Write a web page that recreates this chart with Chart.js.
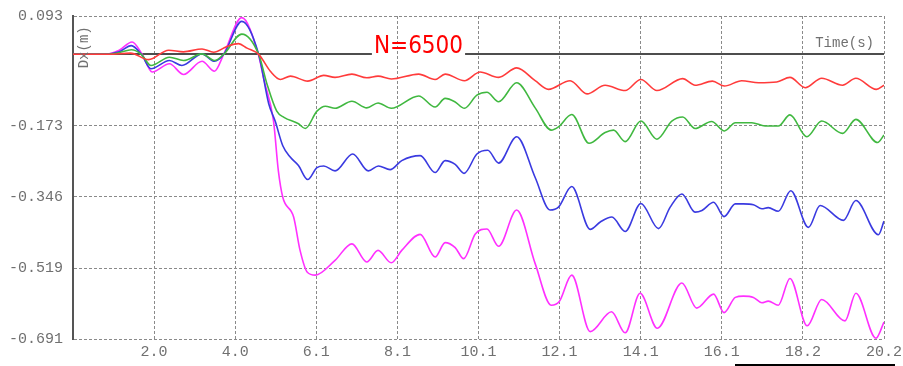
<!DOCTYPE html>
<html>
<head>
<meta charset="UTF-8">
<title>Dx time history</title>
<script src="https://cdn.jsdelivr.net/npm/chart.js"></script>
<style>
    body { margin: 0; background: #fff; }
    #wrap { width: 903px; height: 366px; }
</style>
</head>
<body>
<div id="wrap"><canvas id="dxChart" width="903" height="366"></canvas></div>
<script>
// displacement Dx (m) against time (s), four response curves
const redT = [0, 0.9, 1.43, 1.88, 2.38, 2.75, 3.21, 3.50, 3.83, 4.12, 4.33, 4.62, 4.91, 5.16, 5.41, 5.84, 6.24, 6.52, 6.94, 7.31, 7.59, 7.92, 8.60, 9.01, 9.26, 9.74, 10.13, 10.59, 11.04, 11.50, 11.83, 12.37, 12.79, 13.24, 13.74, 14.13, 14.53, 15.17, 15.48, 15.91, 16.21, 16.64, 17.06, 17.51, 17.84, 18.22, 18.63, 19.15, 19.48, 19.99, 20.18];
const redV = [0, 0, 0.003, -0.013, 0.010, 0.006, 0.013, 0.005, 0.019, 0.026, 0.015, 0, -0.041, -0.061, -0.053, -0.065, -0.051, -0.056, -0.048, -0.057, -0.053, -0.060, -0.048, -0.061, -0.048, -0.064, -0.043, -0.056, -0.033, -0.064, -0.085, -0.064, -0.096, -0.075, -0.088, -0.061, -0.088, -0.059, -0.075, -0.065, -0.077, -0.064, -0.069, -0.067, -0.056, -0.081, -0.058, -0.075, -0.058, -0.085, -0.075];

const greenT = [0, 0.8, 1.15, 1.45, 1.70, 1.94, 2.40, 2.75, 3.21, 3.52, 3.75, 4.20, 4.62, 4.83, 5.07, 5.25, 5.60, 5.78, 6.07, 6.28, 6.52, 6.94, 7.31, 7.59, 7.92, 8.60, 9.01, 9.26, 9.50, 9.74, 10.05, 10.30, 10.59, 11.04, 11.50, 11.90, 12.08, 12.41, 12.84, 13.24, 13.45, 13.74, 14.13, 14.53, 14.90, 15.17, 15.48, 15.89, 16.21, 16.48, 16.89, 17.22, 17.55, 17.84, 18.26, 18.63, 19.15, 19.48, 20.02, 20.18];
const greenV = [0, 0, 0.004, 0.011, 0, -0.027, -0.007, -0.015, 0.001, -0.015, 0, 0.049, 0, -0.073, -0.138, -0.153, -0.168, -0.180, -0.138, -0.126, -0.131, -0.114, -0.130, -0.118, -0.131, -0.101, -0.128, -0.107, -0.115, -0.131, -0.099, -0.092, -0.115, -0.069, -0.130, -0.184, -0.176, -0.146, -0.216, -0.190, -0.184, -0.212, -0.162, -0.206, -0.162, -0.152, -0.180, -0.163, -0.186, -0.166, -0.166, -0.174, -0.174, -0.147, -0.200, -0.162, -0.192, -0.158, -0.214, -0.196];

const blueT = [0, 0.8, 1.15, 1.45, 1.70, 1.94, 2.40, 2.71, 3.21, 3.52, 3.75, 4.20, 4.62, 4.87, 5.03, 5.22, 5.41, 5.61, 5.84, 6.07, 6.24, 6.52, 6.96, 7.35, 7.60, 7.89, 8.18, 8.64, 9.01, 9.26, 9.51, 9.73, 10.05, 10.32, 10.59, 11.04, 11.50, 11.87, 12.08, 12.41, 12.87, 13.12, 13.41, 13.74, 14.13, 14.57, 14.86, 15.15, 15.48, 15.65, 15.94, 16.20, 16.48, 16.68, 16.93, 17.14, 17.30, 17.55, 17.86, 18.30, 18.59, 19.17, 19.48, 20.04, 20.18];
const blueV = [0, 0, 0.006, 0.021, 0, -0.035, -0.015, -0.027, 0.001, -0.017, 0, 0.080, 0, -0.120, -0.162, -0.222, -0.250, -0.270, -0.304, -0.275, -0.271, -0.283, -0.242, -0.283, -0.271, -0.280, -0.258, -0.246, -0.287, -0.258, -0.267, -0.289, -0.242, -0.233, -0.264, -0.200, -0.299, -0.378, -0.371, -0.321, -0.425, -0.407, -0.395, -0.430, -0.362, -0.423, -0.371, -0.339, -0.383, -0.379, -0.359, -0.394, -0.363, -0.363, -0.365, -0.375, -0.372, -0.381, -0.331, -0.420, -0.367, -0.403, -0.355, -0.438, -0.405];

const pinkT = [0, 0.8, 1.15, 1.47, 1.72, 1.97, 2.40, 2.75, 3.21, 3.52, 3.75, 4.20, 4.61, 4.76, 4.99, 5.11, 5.22, 5.49, 5.65, 5.83, 6.03, 6.52, 6.94, 7.31, 7.59, 7.92, 8.18, 8.64, 9.01, 9.26, 9.51, 9.72, 10.01, 10.30, 10.59, 11.04, 11.50, 11.90, 12.10, 12.41, 12.87, 13.40, 13.74, 14.11, 14.54, 15.15, 15.52, 15.94, 16.20, 16.48, 16.68, 16.93, 17.14, 17.30, 17.55, 17.84, 18.27, 18.63, 19.21, 19.48, 19.98, 20.18];
const pinkV = [0, 0, 0.010, 0.030, 0, -0.043, -0.023, -0.049, -0.017, -0.041, 0, 0.089, 0, -0.065, -0.162, -0.283, -0.347, -0.395, -0.476, -0.529, -0.536, -0.500, -0.460, -0.504, -0.476, -0.506, -0.476, -0.437, -0.492, -0.457, -0.469, -0.496, -0.436, -0.424, -0.466, -0.378, -0.508, -0.609, -0.600, -0.536, -0.673, -0.625, -0.676, -0.580, -0.665, -0.555, -0.616, -0.582, -0.627, -0.590, -0.587, -0.590, -0.603, -0.599, -0.609, -0.544, -0.659, -0.595, -0.647, -0.580, -0.689, -0.650];

// axis ticks
const xTickValues = [2.018, 4.036, 6.054, 8.072, 10.09, 12.108, 14.126, 16.144, 18.162, 20.18];
const xTickLabels = ['2.0', '4.0', '6.1', '8.1', '10.1', '12.1', '14.1', '16.1', '18.2', '20.2'];
const yTickValues = [0.093, -0.173, -0.346, -0.519, -0.691];
const yTickLabels = ['0.093', '-0.173', '-0.346', '-0.519', '-0.691'];

const caseLabel = 'N=6500';

function pairs(t, v) {
    return t.map((x, i) => ({ x: x, y: v[i] }));
}

function series(label, t, v, color) {
    return {
        label: label,
        data: pairs(t, v),
        borderColor: color,
        borderWidth: 1.6,
        pointRadius: 0,
        fill: false,
        cubicInterpolationMode: 'monotone'
    };
}

const tickFont = { family: "'Liberation Mono', 'DejaVu Sans Mono', monospace", size: 15 };

// zero line broken by the case label, plus axis captions
const decorations = {
    id: 'decorations',
    beforeDatasetsDraw(chart) {
        const { ctx, chartArea: a, scales: { y } } = chart;
        const y0 = Math.round(y.getPixelForValue(0));
        ctx.save();
        ctx.font = "24px 'Liberation Sans Narrow', 'DejaVu Sans Condensed', sans-serif";
        const cx = a.left + (a.right - a.left) * 0.426;
        const w = ctx.measureText(caseLabel).width;
        ctx.strokeStyle = '#4d4d4d';
        ctx.lineWidth = 2;
        ctx.beginPath();
        ctx.moveTo(a.left, y0);
        ctx.lineTo(cx - w / 2 - 2, y0);
        ctx.moveTo(cx + w / 2 + 2, y0);
        ctx.lineTo(a.right, y0);
        ctx.stroke();
        ctx.fillStyle = '#ff0000';
        ctx.textAlign = 'center';
        ctx.textBaseline = 'alphabetic';
        ctx.fillText(caseLabel, cx, y0 - 1);
        ctx.restore();
    },
    afterDraw(chart) {
        const { ctx, chartArea: a, scales: { y } } = chart;
        const y0 = y.getPixelForValue(0);
        ctx.save();
        ctx.fillStyle = '#707070';
        ctx.font = "14px 'Liberation Mono', 'DejaVu Sans Mono', monospace";
        ctx.textAlign = 'right';
        ctx.textBaseline = 'middle';
        ctx.fillText('Time(s)', a.right - 10, y0 - 11);
        ctx.translate(a.left + 11, y0 - 7);
        ctx.rotate(-Math.PI / 2);
        ctx.textAlign = 'center';
        ctx.fillText('Dx(m)', 0, 0);
        ctx.restore();
        // short rule under the right end of the time axis
        ctx.save();
        ctx.fillStyle = '#000';
        ctx.fillRect(735, 364, 160, 2);
        ctx.restore();
    }
};

new Chart(document.getElementById('dxChart'), {
    type: 'line',
    data: {
        datasets: [
            series('red', redT, redV, '#ff3b3b'),
            series('green', greenT, greenV, '#40b840'),
            series('blue', blueT, blueV, '#3a3ae0'),
            series('magenta', pinkT, pinkV, '#ff30ff')
        ]
    },
    options: {
        responsive: false,
        animation: false,
        layout: { padding: { left: 0, top: 16, right: 19, bottom: 0 } },
        plugins: {
            legend: { display: false },
            tooltip: { enabled: false }
        },
        scales: {
            x: {
                type: 'linear',
                min: 0,
                max: 20.18,
                afterBuildTicks: (s) => { s.ticks = xTickValues.map(v => ({ value: v })); },
                afterFit: (s) => {
                    s.height = 27;
                    s.paddingLeft = 0;
                    s.paddingRight = 0;
                },
                ticks: {
                    autoSkip: false,
                    maxRotation: 0,
                    padding: 4,
                    color: '#707070',
                    font: tickFont,
                    callback: (v) => xTickLabels[xTickValues.indexOf(v)]
                },
                grid: { color: '#8a8a8a', lineWidth: 1, drawTicks: false },
                border: { display: false, dash: [3, 2] }
            },
            y: {
                min: -0.691,
                max: 0.093,
                afterBuildTicks: (s) => { s.ticks = yTickValues.map(v => ({ value: v })); },
                afterFit: (s) => {
                    s.width = 73;
                    s.paddingTop = 0;
                    s.paddingBottom = 0;
                },
                ticks: {
                    padding: 10,
                    color: '#707070',
                    font: tickFont,
                    callback: (v) => yTickLabels[yTickValues.indexOf(v)]
                },
                grid: { color: '#8a8a8a', lineWidth: 1, drawTicks: false },
                border: { display: true, color: '#555', width: 2, dash: [3, 2] }
            }
        }
    },
    plugins: [decorations]
});
</script>
</body>
</html>
